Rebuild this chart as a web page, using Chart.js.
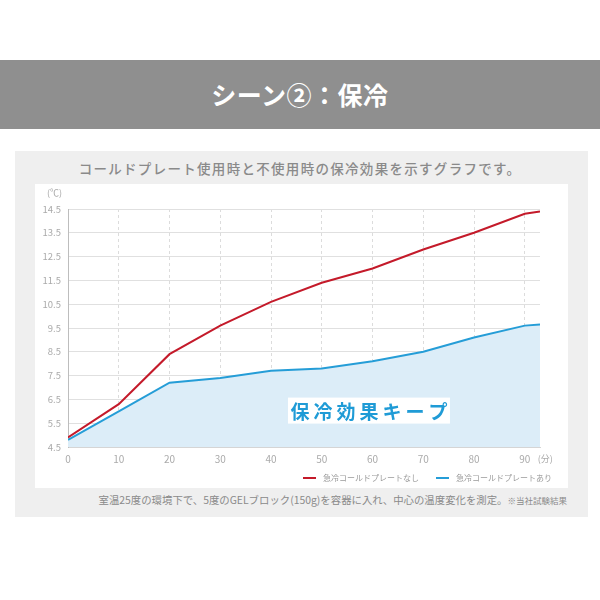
<!DOCTYPE html>
<html lang="ja">
<head>
<meta charset="utf-8">
<script src="https://cdn.jsdelivr.net/npm/chart.js@4/dist/chart.umd.min.js"></script>
<style>
  html,body{margin:0;padding:0;background:#fff;width:600px;height:600px;overflow:hidden;font-family:"Noto Sans CJK JP","Noto Sans",sans-serif;}
  #banner{position:absolute;left:0;top:60px;width:600px;height:69px;background:#8f8f8f;color:#fff;
    font-size:25px;font-weight:700;text-align:center;line-height:69px;letter-spacing:0.5px;}
  #panel{position:absolute;left:15px;top:151px;width:573px;height:366px;background:#efefef;}
  #ptitle{position:absolute;left:0;top:156px;width:600px;text-align:center;font-size:13.5px;color:#8a8a8a;
    font-weight:500;letter-spacing:1.3px;line-height:24px;}
  #box{position:absolute;left:35px;top:184px;width:533px;height:304px;background:#fff;}
  #note{position:absolute;right:33px;top:491px;font-size:10.4px;color:#8a8a8a;white-space:nowrap;line-height:18px;}
  #note small{font-size:8.5px;}
</style>
</head>
<body>
<div id="banner">シーン②：保冷</div>
<div id="panel"></div>
<div id="ptitle">コールドプレート使用時と不使用時の保冷効果を示すグラフです。</div>
<div id="box"><canvas id="c" width="533" height="304"></canvas></div>
<div id="note">室温25度の環境下で、5度のGELブロック(150g)を容器に入れ、中心の温度変化を測定。<small>※当社試験結果</small></div>
<script>
const minutes   = [0, 10, 20, 30, 40, 50, 60, 70, 80, 90, 93];
const noPlate   = [4.9, 6.3, 8.4, 9.6, 10.6, 11.4, 12.0, 12.8, 13.5, 14.3, 14.4];
const withPlate = [4.8, 6.0, 7.2, 7.4, 7.7, 7.8, 8.1, 8.5, 9.1, 9.6, 9.65];
const seriesLabels = ['急冷コールドプレートなし', '急冷コールドプレートあり'];
const yTicks = [4.5, 5.5, 6.5, 7.5, 8.5, 9.5, 10.5, 11.5, 12.5, 13.5, 14.5];
const xTicks = [0, 10, 20, 30, 40, 50, 60, 70, 80, 90];

const FONT = '"Noto Sans CJK JP","Noto Sans",sans-serif';
const toPts = (xs, ys) => xs.map((x, i) => ({x: x, y: ys[i]}));

const extras = {
  id: 'extras',
  afterDraw(chart) {
    const {ctx, scales: {x, y}} = chart;
    ctx.save();
    ctx.font = '9px ' + FONT;
    ctx.fillStyle = '#aaaaaa';
    ctx.textBaseline = 'middle';
    ctx.textAlign = 'left';
    ctx.fillText('(℃)', 12, 9);
    ctx.fillText('(分)', x.getPixelForValue(90) + 13, y.bottom + 12);
    // legend (right aligned)
    ctx.font = '8px ' + FONT;
    const ds = chart.data.datasets;
    let right = chart.width - 16;
    const ly = y.bottom + 31;
    for (let i = ds.length - 1; i >= 0; i--) {
      const w = ctx.measureText(ds[i].label).width;
      const tx = right - w;
      ctx.fillStyle = '#9a9a9a';
      ctx.fillText(ds[i].label, tx, ly);
      ctx.fillStyle = ds[i].borderColor;
      ctx.fillRect(tx - 20, ly - 1, 13, 2);
      right = tx - 20 - 17;
    }
    // label box
    const cx = x.getPixelForValue(59.3), cy = y.getPixelForValue(6.03);
    ctx.fillStyle = '#ffffff';
    ctx.fillRect(cx - 81, cy - 13, 162, 26);
    ctx.font = '700 19px ' + FONT;
    ctx.fillStyle = '#1f9bd6';
    ctx.textAlign = 'center';
    if ('letterSpacing' in ctx) ctx.letterSpacing = '4px';
    ctx.fillText('保冷効果キープ', cx + 2, cy + 1);
    ctx.restore();
  }
};

new Chart(document.getElementById('c'), {
  type: 'line',
  data: {
    datasets: [
      {label: seriesLabels[0], data: toPts(minutes, noPlate), borderColor: '#c41a2a', backgroundColor: '#c41a2a',
       borderWidth: 2, pointRadius: 0, tension: 0, fill: false, order: 1},
      {label: seriesLabels[1], data: toPts(minutes, withPlate), borderColor: '#259dd7', backgroundColor: '#dcedf8',
       borderWidth: 2, pointRadius: 0, tension: 0, fill: 'origin', order: 2}
    ]
  },
  options: {
    responsive: false,
    animation: false,
    layout: {padding: {left: 0, right: 28, top: 25, bottom: 20}},
    plugins: {
      legend: {display: false},
      tooltip: {enabled: false}
    },
    scales: {
      x: {
        type: 'linear', min: 0, max: 93,
        afterBuildTicks(s) { s.ticks = xTicks.map(v => ({value: v})); },
        afterFit(s) { s.height = 21; },
        ticks: {font: {family: FONT, size: 10}, color: '#aaa', padding: 6, maxRotation: 0},
        grid: {color: '#dcdcdc', lineWidth: 1, drawTicks: false},
        border: {display: true, color: '#d5d5d5', dash: [3, 3]},
      },
      y: {
        min: 4.5, max: 14.5,
        afterBuildTicks(s) { s.ticks = yTicks.map(v => ({value: v})); },
        afterFit(s) { s.width = 33; },
        ticks: {font: {family: FONT, size: 9.5}, color: '#aaa', padding: 7, callback: v => v.toFixed(1)},
        grid: {color: '#e0e0e0', lineWidth: 1, drawTicks: false},
        border: {display: true, color: '#bdbdbd'}
      }
    }
  },
  plugins: [extras]
});
</script>
</body>
</html>
